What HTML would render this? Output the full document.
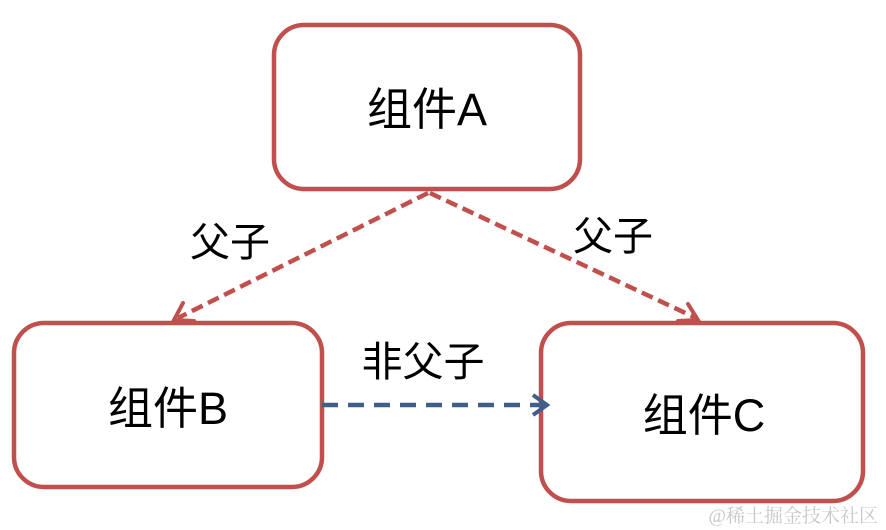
<!DOCTYPE html>
<html><head><meta charset="utf-8"><style>
html,body{margin:0;padding:0;background:#fff;}
</style></head><body>
<svg width="886" height="530" viewBox="0 0 886 530" xmlns="http://www.w3.org/2000/svg" style="display:block">
<g fill="#fff" stroke="#c0504d" stroke-width="4.5">
<rect x="274" y="25" width="306" height="164" rx="30"/>
<rect x="14" y="323" width="308" height="164" rx="30"/>
<rect x="541" y="323" width="322" height="178" rx="30"/>
</g>
<g stroke="#c0504d" stroke-width="4.5" fill="none" stroke-dasharray="12,6">
<line x1="428" y1="193" x2="178" y2="318"/>
<line x1="430" y1="193" x2="696" y2="318"/>
</g>
<g stroke="#c0504d" stroke-width="4" fill="none" stroke-linecap="round">
<polyline points="183,303 174,320 194,321"/>
<polyline points="678,321 698,320 688,304"/>
</g>
<line x1="322" y1="405" x2="545" y2="405" stroke="#3e5f8a" stroke-width="4.5" stroke-dasharray="16,10"/>
<polyline points="533,395 547,405 533,415" stroke="#3e5f8a" stroke-width="4" fill="none"/>
<g font-family="'Liberation Sans','Noto Sans CJK SC',sans-serif" fill="#000">
<text x="427" y="125" font-size="45" text-anchor="middle">组件A</text>
<text x="168" y="424" font-size="45" text-anchor="middle">组件B</text>
<text x="704" y="431" font-size="45" text-anchor="middle">组件C</text>
<text x="230" y="256" font-size="40" text-anchor="middle">父子</text>
<text x="613" y="250" font-size="40" text-anchor="middle">父子</text>
<text x="423" y="376" font-size="41" text-anchor="middle">非父子</text>
</g>
<text x="878" y="522" font-size="19" text-anchor="end" fill="#c8c8c8" font-family="'Liberation Serif','Noto Serif CJK SC',serif">@稀土掘金技术社区</text>
</svg>
</body></html>
